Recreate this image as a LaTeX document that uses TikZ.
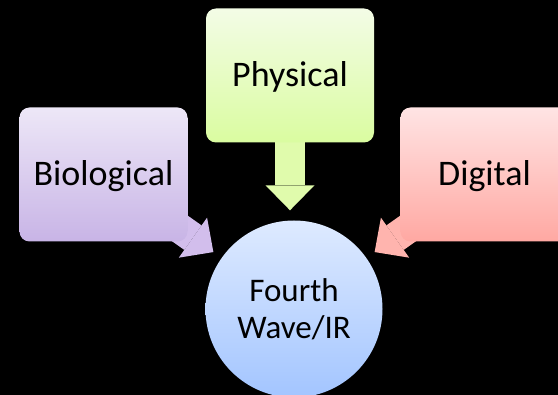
\documentclass[tikz,border=0pt]{standalone}
\usepackage{fontspec}
\setmainfont{Carlito}
\usetikzlibrary{arrows.meta}
\definecolor{physT}{RGB}{243,252,230}
\definecolor{physB}{RGB}{218,252,160}
\definecolor{physA}{RGB}{224,251,172}
\definecolor{bioT}{RGB}{237,231,247}
\definecolor{bioB}{RGB}{200,180,230}
\definecolor{bioA}{RGB}{210,190,236}
\definecolor{digT}{RGB}{255,228,228}
\definecolor{digB}{RGB}{255,168,162}
\definecolor{digA}{RGB}{255,180,174}
\definecolor{hubT}{RGB}{222,234,255}
\definecolor{hubB}{RGB}{163,197,255}
\pgfdeclarelayer{bg}
\pgfdeclarelayer{arr}
\pgfsetlayers{bg,arr,main}
\begin{document}
\begin{tikzpicture}[x=1pt,y=-1pt,
  box/.style={rectangle, rounded corners=10pt, minimum width=168pt, minimum height=134pt,
    inner sep=0pt, text height=23pt, text depth=0pt, font=\fontsize{36}{43}\selectfont},
  hub/.style={circle, minimum size=177pt, inner sep=0pt,
    align=center, font=\fontsize{33}{37}\selectfont},
  fat/.style={line width=30pt, shorten >=10pt,
    -{Triangle[width=49pt,length=25pt,line width=0pt]}}]
\begin{pgfonlayer}{bg}
  \fill[black] (0,0) rectangle (558,395);
\end{pgfonlayer}
\clip (0,0) rectangle (558,395);
\node[box, top color=physT, bottom color=physB] (phys) at (290,75.5) {Physical};
\node[box, top color=bioT, bottom color=bioB] (bio) at (103.5,174.5) {Biological};
\node[box, top color=digT, bottom color=digB] (dig) at (484.5,174.5) {Digital};
\node[hub, top color=hubT, bottom color=hubB] (hub) at (294,309) {Fourth\\Wave/IR};
\begin{pgfonlayer}{arr}
  \draw[fat, draw=physA, fill=physA] (phys.center) -- (phys.center |- hub.north);
  \draw[fat, draw=bioA, fill=bioA] (bio.center) -- (hub);
  \draw[fat, draw=digA, fill=digA] (dig.center) -- (hub);
\end{pgfonlayer}
\end{tikzpicture}
\end{document}
